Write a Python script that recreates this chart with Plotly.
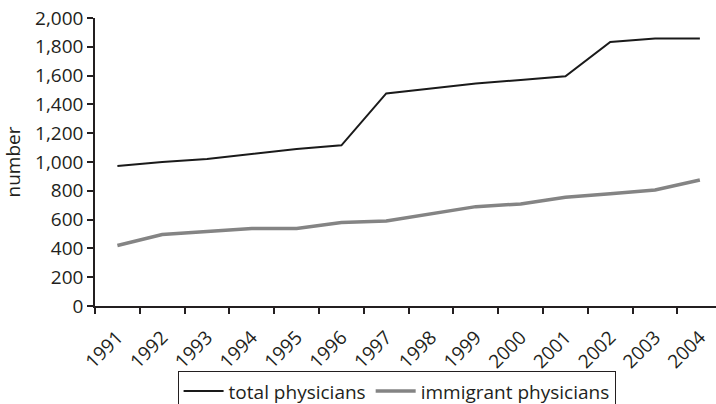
import plotly.graph_objects as go

years = [str(y) for y in range(1991, 2005)]
total_physicians = [972, 1000, 1021, 1055, 1090, 1116, 1476, 1510, 1545, 1570, 1596, 1834, 1857, 1857]
immigrant_physicians = [420, 496, 518, 538, 538, 579, 591, 640, 690, 709, 755, 780, 806, 875]

FONT = "Open Sans"
INK = "#231f20"

fig = go.Figure()
fig.add_trace(go.Scatter(x=years, y=total_physicians, mode="lines", name="total physicians",
                         line=dict(color="#1a1a1a", width=2)))
fig.add_trace(go.Scatter(x=years, y=immigrant_physicians, mode="lines", name="immigrant physicians",
                         line=dict(color="#848484", width=3.5)))

fig.update_layout(
    width=716, height=404,
    margin=dict(l=95, r=0, t=18, b=98, autoexpand=False),
    paper_bgcolor="white", plot_bgcolor="white",
    font=dict(family=FONT, size=19, color=INK),
    showlegend=True,
    legend=dict(orientation="h", x=0.133, y=-0.2266, xanchor="left", yanchor="top",
                bordercolor=INK, borderwidth=1, font=dict(size=19),
                itemwidth=40, tracegroupgap=0),
    xaxis=dict(type="category", range=[-0.5, 13.36], tickson="boundaries",
               ticks="outside", ticklen=6, tickcolor=INK, tickwidth=1.5,
               showline=True, linecolor=INK, linewidth=1.5, automargin=False,
               showgrid=False, tickangle=-45, tickfont=dict(size=19),
               ticklabelstandoff=11),
    yaxis=dict(range=[0, 2000], tickvals=list(range(0, 2001, 200)),
               tickformat=",d", ticks="outside", ticklen=6, tickcolor=INK, tickwidth=1.5,
               showline=True, linecolor=INK, linewidth=1.5, automargin=False,
               showgrid=False, zeroline=False, tickfont=dict(size=19),
               title=dict(text="number", font=dict(size=19), standoff=10)),
)

fig.write_html("out.html", config={"displayModeBar": False},
               post_script="document.body.style.margin='0';")
